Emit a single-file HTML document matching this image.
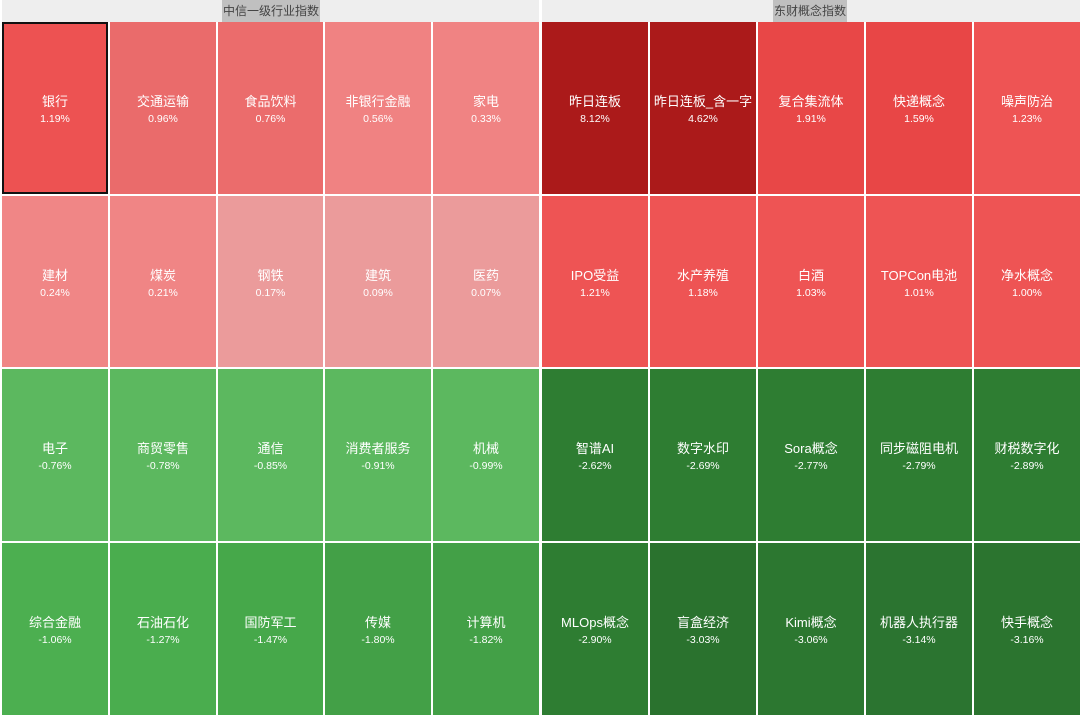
<!DOCTYPE html><html><head><meta charset="utf-8"><style>
body{margin:0;width:1080px;height:716px;background:#fff;position:relative;overflow:hidden;font-family:"Liberation Sans","Noto Sans CJK SC",sans-serif}
.hd{position:absolute;top:0;height:22px;background:#eeeeee}
.lb{position:absolute;top:0;height:22px;background:#c0c0c0;color:#444;font-size:12px;line-height:22px;text-align:center}
.c{position:absolute;color:#fff;text-align:center;box-sizing:border-box}
.c .n{position:absolute;left:0;right:0;font-size:13px}
.c .p{position:absolute;left:0;right:0;font-size:10.5px}
</style></head><body>
<div class="hd" style="left:2px;width:537px"></div>
<div class="hd" style="left:542px;width:538px"></div>
<div class="lb" style="left:222px;width:98px">中信一级行业指数</div>
<div class="lb" style="left:773px;width:74px">东财概念指数</div>
<div id="g"></div>
<script>
const L=[["银行","1.19%","#ed5252"],["交通运输","0.96%","#ea6b6b"],["食品饮料","0.76%","#eb6c6c"],["非银行金融","0.56%","#f08282"],["家电","0.33%","#f08383"],
["建材","0.24%","#f08686"],["煤炭","0.21%","#f08585"],["钢铁","0.17%","#eb9b9b"],["建筑","0.09%","#eb9b9b"],["医药","0.07%","#eb9b9b"],
["电子","-0.76%","#5cb85f"],["商贸零售","-0.78%","#5cb85f"],["通信","-0.85%","#5cb85f"],["消费者服务","-0.91%","#5cb85f"],["机械","-0.99%","#5cb85f"],
["综合金融","-1.06%","#4caf50"],["石油石化","-1.27%","#4aad4e"],["国防军工","-1.47%","#46a84a"],["传媒","-1.80%","#43a047"],["计算机","-1.82%","#43a047"]];
const R=[["昨日连板","8.12%","#ab1a1a"],["昨日连板_含一字","4.62%","#ab1a1a"],["复合集流体","1.91%","#e84747"],["快递概念","1.59%","#e84646"],["噪声防治","1.23%","#ee5454"],
["IPO受益","1.21%","#ee5454"],["水产养殖","1.18%","#ee5454"],["白酒","1.03%","#ee5454"],["TOPCon电池","1.01%","#ee5454"],["净水概念","1.00%","#ee5454"],
["智谱AI","-2.62%","#2e7d32"],["数字水印","-2.69%","#2e7d32"],["Sora概念","-2.77%","#2e7d32"],["同步磁阻电机","-2.79%","#2e7d32"],["财税数字化","-2.89%","#2e7d32"],
["MLOps概念","-2.90%","#2e7d32"],["盲盒经济","-3.03%","#2a722e"],["Kimi概念","-3.06%","#2c7730"],["机器人执行器","-3.14%","#2b7430"],["快手概念","-3.16%","#2b742f"]];
const ys=[22,196,369,543,717];
let h="";
function grid(D,x0,x1){const w=(x1-x0)/5;D.forEach((d,i)=>{const r=Math.floor(i/5),c=i%5;const x=Math.round(x0+c*w),xe=Math.round(x0+(c+1)*w)-2;const y=ys[r],ye=ys[r+1]-2;const H=ye-y;
const b=(x0<10&&i==0)?"border:2px solid #111;":"";
h+=`<div class="c" style="left:${x}px;top:${y}px;width:${xe-x}px;height:${H}px;background:${d[2]};${b}"><div class="n" style="top:${H/2-17-(b?2:0)}px">${d[0]}</div><div class="p" style="top:${H/2+5-(b?2:0)}px">${d[1]}</div></div>`;});}
grid(L,2,541);grid(R,542,1082);
document.getElementById("g").innerHTML=h;
</script>
</body></html>
